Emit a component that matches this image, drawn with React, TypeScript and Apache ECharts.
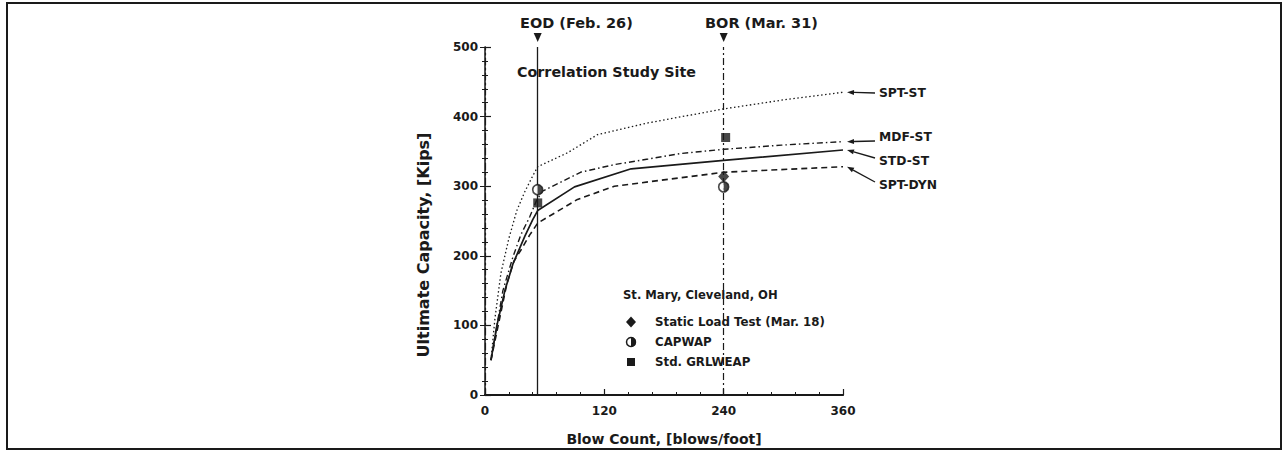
import React, { useEffect, useRef } from "react";
import * as echarts from "echarts";

// ---- data ----
const sptSt: number[][] = [[6,50],[10,110],[16,175],[24,225],[32,265],[40,292],[47,312],[53,328],[83,348],[113,374],[164,391],[240,411],[300,424],[360,435]];
const mdfSt: number[][] = [[6,50],[12,100],[18,150],[28,198],[36,230],[45,256],[52,280],[58,293],[96,320],[130,331],[164,339],[197,347],[240,353],[298,359],[360,364]];
const stdSt: number[][] = [[6,50],[12,100],[20,150],[28,188],[40,228],[48,252],[53,265],[90,299],[147,325],[240,337],[360,352]];
const sptDyn: number[][] = [[6,50],[14,105],[22,160],[29,192],[36,208],[45,230],[53,247],[93,281],[130,300],[240,320],[360,328]];
const staticLoad: number[][] = [[240,314]];
const capwap: number[][] = [[53,295],[240,299]];
const grlweap: number[][] = [[53,276],[242,370]];
const events = [{ x: 53, label: "EOD (Feb. 26)" }, { x: 240, label: "BOR (Mar. 31)" }];
const curveLabels = ["SPT-ST", "MDF-ST", "STD-ST", "SPT-DYN"];
const legendTitle = "St. Mary, Cleveland, OH";
const legendNames = ["Static Load Test (Mar. 18)", "CAPWAP", "Std. GRLWEAP"];
const xName = "Blow Count, [blows/foot]";
const yName = "Ultimate Capacity, [Kips]";
const siteTitle = "Correlation Study Site";

const FONT = "DejaVu Sans";
const INK = "#1a1a1a";

export default function App() {
  const ref = useRef<HTMLDivElement>(null);
  useEffect(() => {
    document.body.style.margin = "0";
    const chart = echarts.init(ref.current!, null, { renderer: "svg" });
    const lineS = (name: string, data: number[][], type: any, width: number) => ({
      name, type: "line", data, symbol: "none", smooth: false,
      lineStyle: { color: INK, width, type }, z: 3,
    });
    const tickFont = { color: INK, fontFamily: FONT, fontSize: 12, fontWeight: "bold" as const };
    chart.setOption({
      animation: false,
      backgroundColor: "#fff",
      grid: { left: 485, right: 442, top: 47, bottom: 57 },
      xAxis: [
        {
          type: "value", min: 0, max: 360, interval: 120, position: "bottom",
          axisLine: { lineStyle: { color: INK, width: 2 } },
          axisTick: { inside: true, length: 6, lineStyle: { color: INK, width: 1.2 } },
          minorTick: { show: true, splitNumber: 5, length: 3, lineStyle: { color: INK } },
          splitLine: { show: false },
          axisLabel: { ...tickFont, margin: 10 },
          name: xName, nameLocation: "middle", nameGap: 37,
          nameTextStyle: { color: INK, fontFamily: FONT, fontSize: 14, fontWeight: "bold" },
        },
        {
          type: "value", min: 0, max: 360, interval: 120, position: "top",
          axisLine: { show: true, lineStyle: { color: INK, width: 1.5 } },
          axisTick: { show: false }, axisLabel: { show: false }, splitLine: { show: false },
        },
      ],
      yAxis: [
        {
          type: "value", min: 0, max: 500, interval: 100, position: "left",
          axisLine: { show: true, lineStyle: { color: INK, width: 1.5 } },
          axisTick: { show: true, inside: true, length: 6, lineStyle: { color: INK, width: 1.2 } },
          minorTick: { show: true, splitNumber: 5, length: 3, lineStyle: { color: INK } },
          splitLine: { show: false },
          axisLabel: { ...tickFont, margin: 7 },
        },
        {
          type: "value", min: 0, max: 500, interval: 100, position: "right",
          axisLine: { show: true, lineStyle: { color: INK, width: 1.2, type: [7, 3, 2, 3] } },
          axisTick: { show: true, inside: true, length: 5, lineStyle: { color: INK } },
          minorTick: { show: true, splitNumber: 5, length: 3, lineStyle: { color: INK } },
          axisLabel: { show: false }, splitLine: { show: false },
        },
      ],
      series: [
        {
          ...lineS("SPT-ST", sptSt, [1.5, 2.5], 1.3),
          markLine: {
            silent: true, symbol: "none", label: { show: false },
            data: [
              { xAxis: events[0].x, lineStyle: { color: INK, width: 1.3, type: "solid" } },
              { xAxis: events[1].x, lineStyle: { color: INK, width: 1.2, type: [7, 3, 2, 3] } },
            ],
          },
        },
        lineS("MDF-ST", mdfSt, [6, 3, 1.5, 3], 1.4),
        lineS("STD-ST", stdSt, "solid", 1.7),
        lineS("SPT-DYN", sptDyn, [6, 4], 1.6),
        {
          name: legendNames[0], type: "scatter", data: staticLoad, symbol: "diamond",
          symbolSize: [11, 12], itemStyle: { color: INK }, z: 5,
        },
        {
          name: legendNames[1], type: "scatter", data: capwap, symbol: "circle", symbolSize: 10,
          itemStyle: { color: "#fff", borderColor: INK, borderWidth: 1.6 }, z: 5,
        },
        {
          name: legendNames[1] + " fill", type: "scatter", data: capwap,
          symbol: "path://M0,0A10,10,0,0,1,0,20Z", symbolSize: [5, 10], symbolOffset: [2.5, 0],
          itemStyle: { color: INK }, z: 6,
        },
        {
          name: legendNames[2], type: "scatter", data: grlweap, symbol: "rect", symbolSize: 9,
          itemStyle: { color: INK }, z: 5,
        },
      ],
    });

    const px = (p: number[]) => chart.convertToPixel({ gridIndex: 0 }, p) as number[];
    const txt = (x: number, y: number, text: string, size: number, extra: any = {}) => ({
      type: "text", x, y, ...extra,
      style: { text, font: `bold ${size}px "${FONT}"`, fill: INK, verticalAlign: "middle", ...(extra.style || {}) },
    });
    const g: any[] = [];
    // outer frame
    g.push({ type: "rect", shape: { x: 7, y: 3, width: 1274, height: 446 }, style: { fill: "none", stroke: INK, lineWidth: 2 }, silent: true });
    // y-axis title
    g.push({ type: "text", x: 423, y: 245, rotation: Math.PI / 2,
      style: { text: yName, font: `bold 16px "${FONT}"`, fill: INK, align: "center", verticalAlign: "middle" } });
    // event markers
    const lefts = [520, 705];
    events.forEach((e, i) => {
      const p = px([e.x, 500]);
      g.push({ type: "polygon", shape: { points: [[p[0] - 4, 33], [p[0] + 4, 33], [p[0], 42]] }, style: { fill: INK } });
      g.push(txt(lefts[i], 23, e.label, 14.5));
    });
    g.push(txt(517, 72, siteTitle, 14.3));
    // curve labels with arrows
    const ends = [sptSt, mdfSt, stdSt, sptDyn].map((s) => s[s.length - 1]);
    const labelY = [93, 137, 161, 185];
    const tailY = [93, 141, 158, 182];
    ends.forEach((d, i) => {
      const tip = px(d);
      const tx = tip[0] + 4, ty = tip[1];
      const tail = [875, tailY[i]];
      const ang = Math.atan2(tail[1] - ty, tail[0] - tx);
      const L = 7, W = 2.5;
      const bx = tx + Math.cos(ang) * L, by = ty + Math.sin(ang) * L;
      g.push({ type: "line", shape: { x1: bx, y1: by, x2: tail[0], y2: tail[1] }, style: { stroke: INK, lineWidth: 1.3 } });
      g.push({ type: "polygon", shape: { points: [[tx, ty], [bx - Math.sin(ang) * W, by + Math.cos(ang) * W], [bx + Math.sin(ang) * W, by - Math.cos(ang) * W]] }, style: { fill: INK } });
      g.push(txt(879, labelY[i], curveLabels[i], 12.3));
    });
    // legend
    g.push(txt(623, 295, legendTitle, 11.6));
    const ly = [322, 342, 362];
    g.push({ type: "polygon", shape: { points: [[631, 316.5], [636, 322], [631, 327.5], [626, 322]] }, style: { fill: INK } });
    g.push({ type: "circle", shape: { cx: 631, cy: 342, r: 4.5 }, style: { fill: "#fff", stroke: INK, lineWidth: 1.5 } });
    g.push({ type: "sector", shape: { cx: 631, cy: 342, r: 5, r0: 0, startAngle: -Math.PI / 2, endAngle: Math.PI / 2 }, style: { fill: INK } });
    g.push({ type: "rect", shape: { x: 627, y: 358, width: 8, height: 8 }, style: { fill: INK } });
    legendNames.forEach((n, i) => g.push(txt(655, ly[i], n, 11.8)));
    chart.setOption({ graphic: g });
    return () => chart.dispose();
  }, []);
  return <div ref={ref} style={{ width: 1285, height: 452 }} />;
}
